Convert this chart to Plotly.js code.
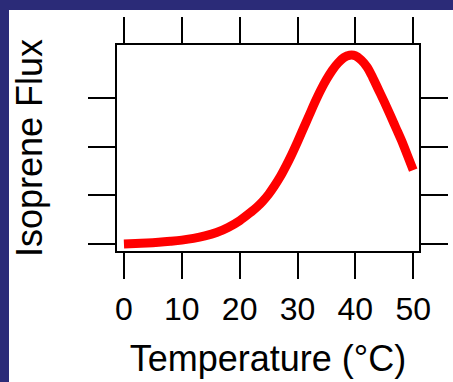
<!DOCTYPE html>
<html>
<head>
<meta charset="utf-8">
<script src="https://cdn.plot.ly/plotly-3.0.1.min.js"></script>
<style>
  html, body { margin: 0; padding: 0; width: 453px; height: 382px; overflow: hidden; background: #2b2b78; }
  #chart { position: absolute; left: 9px; top: 10px; width: 444px; height: 372px; }
</style>
</head>
<body>
<div id="chart"></div>
<script>
const temperature = [0, 2, 4, 6, 8, 10, 12, 14, 16, 18, 20, 22, 23, 24, 25, 26, 27, 28, 29, 30, 31, 32, 33, 34, 35, 36, 37, 38, 39, 40, 41, 42, 43, 44, 45, 46, 47, 48, 49, 50];
const isopreneFlux = [0, 0.01, 0.02, 0.035, 0.055, 0.08, 0.115, 0.165, 0.235, 0.34, 0.48, 0.66, 0.76, 0.88, 1.02, 1.19, 1.38, 1.6, 1.84, 2.1, 2.37, 2.64, 2.91, 3.16, 3.38, 3.57, 3.72, 3.83, 3.88, 3.87, 3.78, 3.64, 3.42, 3.17, 2.92, 2.66, 2.39, 2.12, 1.82, 1.52];
const xTicks = [0, 10, 20, 30, 40, 50];
const yTicks = [0, 1, 2, 3];

const font = "Liberation Sans, Arial, Helvetica, sans-serif";

const trace = {
  x: temperature,
  y: isopreneFlux,
  type: "scatter",
  mode: "lines",
  line: { color: "#ff0000", width: 9, shape: "spline", smoothing: 1 },
  hoverinfo: "skip"
};

const layout = {
  width: 444,
  height: 372,
  margin: { l: 108, r: 34, t: 35, b: 131 },
  paper_bgcolor: "#ffffff",
  plot_bgcolor: "#ffffff",
  showlegend: false,
  font: { family: font, color: "#000000" },
  xaxis: {
    range: [-1.2, 51.0],
    tickmode: "array",
    tickvals: xTicks,
    ticktext: xTicks.map(String),
    ticks: "outside",
    ticklen: 26,
    tickwidth: 2,
    tickcolor: "#000000",
    showline: true,
    linewidth: 2,
    linecolor: "#000000",
    mirror: "ticks",
    showgrid: false,
    zeroline: false,
    ticklabelstandoff: 3,
    tickfont: { family: font, size: 32, color: "#000000" },
    title: { text: "Temperature (°C)", font: { family: font, size: 36, color: "#000000" }, standoff: 19 }
  },
  yaxis: {
    range: [-0.144, 4.09],
    tickmode: "array",
    tickvals: yTicks,
    showticklabels: false,
    ticks: "outside",
    ticklen: 27,
    tickwidth: 2,
    tickcolor: "#000000",
    showline: true,
    linewidth: 2,
    linecolor: "#000000",
    mirror: "ticks",
    showgrid: false,
    zeroline: false,
    title: { text: "Isoprene Flux", font: { family: font, size: 36, color: "#000000" }, standoff: 35 }
  }
};

Plotly.newPlot("chart", [trace], layout, { displayModeBar: false, staticPlot: true });
</script>
</body>
</html>
